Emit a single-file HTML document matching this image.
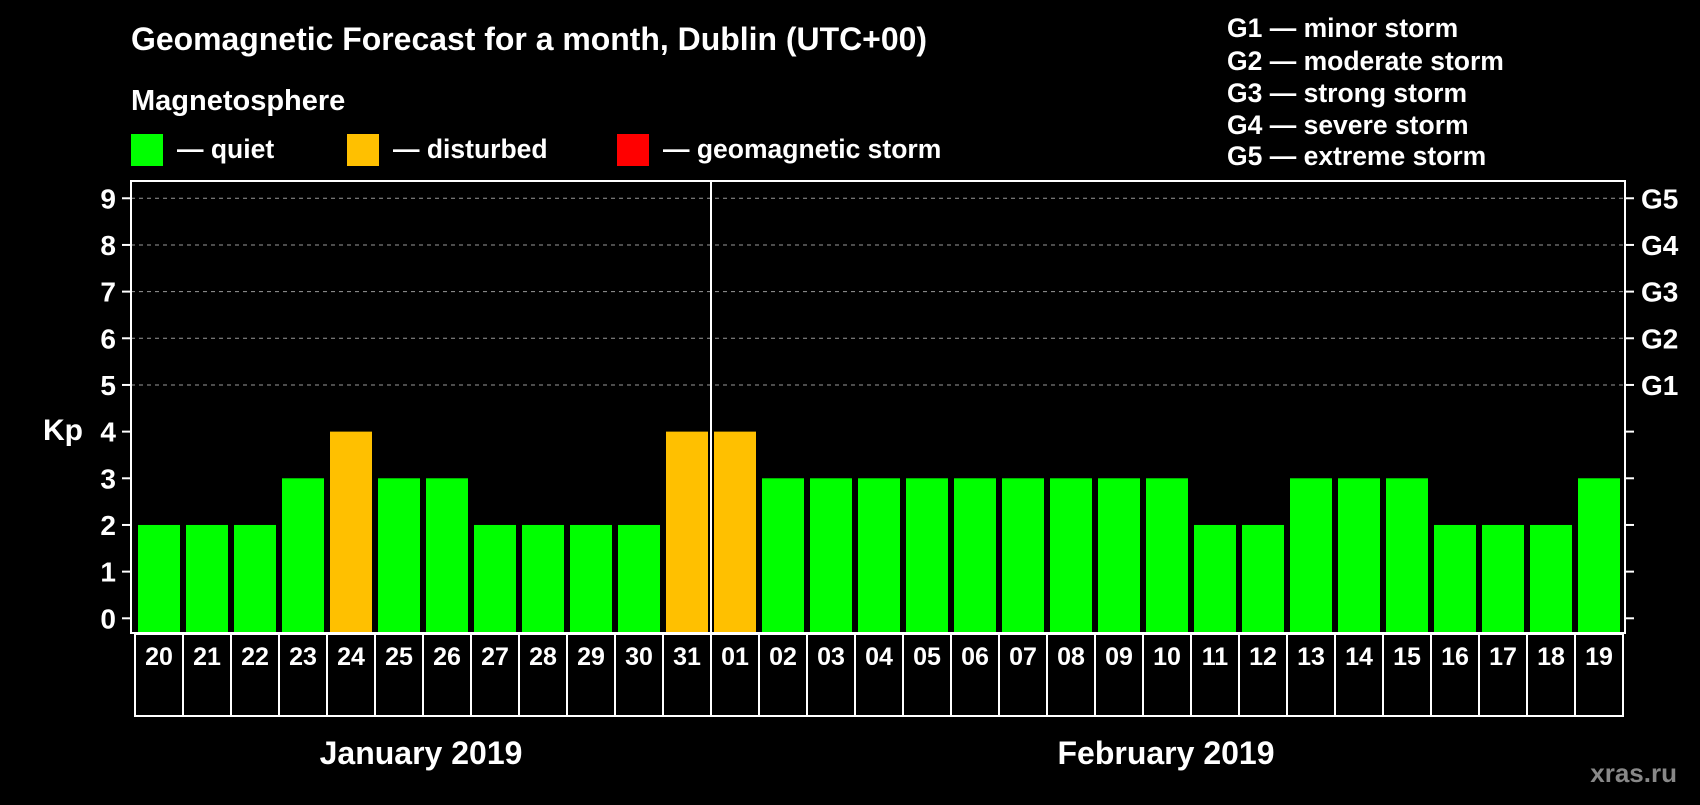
<!DOCTYPE html>
<html><head><meta charset="utf-8"><style>
body{margin:0;background:#000;width:1700px;height:800px;overflow:hidden}
svg text{font-family:"Liberation Sans",Arial,sans-serif;font-weight:bold;fill:#fff}
</style></head><body>
<svg id="chart" width="1700" height="800" xmlns="http://www.w3.org/2000/svg">
<rect width="1700" height="800" fill="#000"/>
<text x="131" y="50" font-size="32" textLength="796" lengthAdjust="spacingAndGlyphs">Geomagnetic Forecast for a month, Dublin (UTC+00)</text>
<text x="131" y="110" font-size="29">Magnetosphere</text>
<rect x="131" y="134" width="32" height="32" fill="#00ff00"/>
<text x="177" y="158" font-size="26.5">— quiet</text>
<rect x="347" y="134" width="32" height="32" fill="#ffc000"/>
<text x="393" y="158" font-size="26.5">— disturbed</text>
<rect x="617" y="134" width="32" height="32" fill="#ff0000"/>
<text x="663" y="158" font-size="26.5">— geomagnetic storm</text>
<g font-size="26.5">
<text x="1227" y="37">G1 — minor storm</text>
<text x="1227" y="70">G2 — moderate storm</text>
<text x="1227" y="102">G3 — strong storm</text>
<text x="1227" y="134">G4 — severe storm</text>
<text x="1227" y="165">G5 — extreme storm</text>
</g>
<text x="63" y="440" font-size="30" text-anchor="middle">Kp</text>
<g id="grid"></g><g id="bars"></g><g id="axes"></g>
<text x="421" y="764" font-size="32" text-anchor="middle">January 2019</text>
<text x="1166" y="764" font-size="32" text-anchor="middle">February 2019</text>
<text x="1677" y="782" font-size="26" text-anchor="end" style="fill:#888">xras.ru</text>
</svg>
<script>
const dates=["20","21","22","23","24","25","26","27","28","29","30","31","01","02","03","04","05","06","07","08","09","10","11","12","13","14","15","16","17","18","19"];
const kpValues=[2,2,2,3,4,3,3,2,2,2,2,4,4,3,3,3,3,3,3,3,3,3,2,2,3,3,3,2,2,2,3];
const yTicks=[0,1,2,3,4,5,6,7,8,9];
const gLabels=["","","","","","G1","G2","G3","G4","G5"];
const NS="http://www.w3.org/2000/svg";
const pLeft=131,pRight=1625,pTop=181,pBottom=633;
const yS=v=>618.3-v*46.67;
const xS=i=>138+i*48;
function mk(t,a,p){const e=document.createElementNS(NS,t);for(const k in a)e.setAttribute(k,a[k]);p.appendChild(e);return e;}
const grid=document.getElementById('grid'),bars=document.getElementById('bars'),axes=document.getElementById('axes');
yTicks.forEach((t,i)=>{
  if(t>=5){const l=mk('line',{x1:pLeft,x2:pRight,y1:yS(t),y2:yS(t),stroke:'#999','stroke-dasharray':'4,4','stroke-width':1},grid);
  
  }
  const tl=mk('line',{x1:pLeft-9,x2:pLeft,y1:yS(t),y2:yS(t),stroke:'#fff','stroke-width':2},axes);
  
  
  const tr=mk('line',{x1:pRight,x2:pRight+9,y1:yS(t),y2:yS(t),stroke:'#fff','stroke-width':2},axes);
  
  
  const tx=mk('text',{x:116,y:yS(t)+10,'font-size':28,'text-anchor':'end'},axes);tx.textContent=t;
  
  
  if(gLabels[i]){const g=mk('text',{x:1641,y:yS(t)+10,'font-size':28},axes);g.textContent=gLabels[i];
  
  }
});
kpValues.forEach((v,i)=>{
  const c=v>=5?'#ff0000':(v>=4?'#ffc000':'#00ff00');
  const b=mk('rect',{x:xS(i),y:yS(v),width:42,height:pBottom-1-yS(v),fill:c},bars);
  
  
  const cell=mk('rect',{x:xS(i)-3,y:pBottom+1,width:48,height:82,fill:'none',stroke:'#fff','stroke-width':2},axes);
  
  
  const t=mk('text',{x:xS(i)+21,y:pBottom+32,'font-size':25,'text-anchor':'middle'},axes);t.textContent=dates[i];
  
  
});
const frame=mk('rect',{x:pLeft,y:pTop,width:pRight-pLeft,height:pBottom-pTop,fill:'none',stroke:'#fff','stroke-width':2},axes);


const sep=mk('line',{x1:xS(12)-3,x2:xS(12)-3,y1:pTop,y2:pBottom,stroke:'#fff','stroke-width':2},axes);


</script>
</body></html>
